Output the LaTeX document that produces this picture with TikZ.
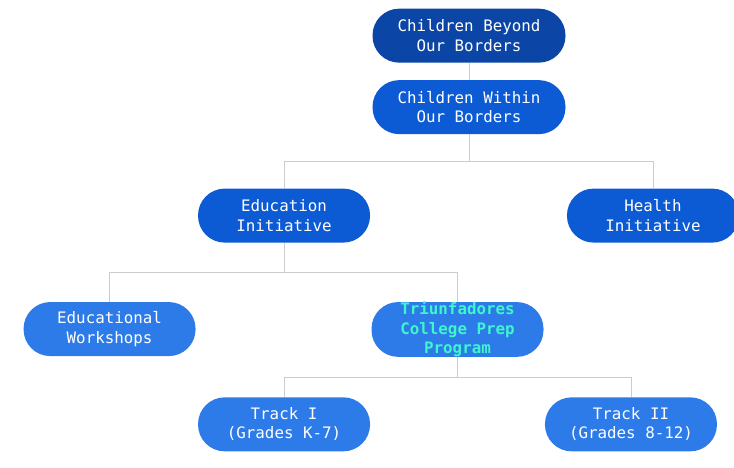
\documentclass[tikz,border=0pt]{standalone}
\usepackage{fontspec}
\setmonofont{DejaVu Sans Mono}
\usetikzlibrary{positioning}
\usetikzlibrary{calc}
\definecolor{rootblue}{HTML}{0B46A6}
\definecolor{midblue}{HTML}{0C5BD4}
\definecolor{lightblue}{HTML}{2D7BE9}
\definecolor{linkgray}{HTML}{CCCCCC}
\definecolor{aqua}{HTML}{3FF5CB}
\tikzset{org node/.style={rectangle,rounded corners=0.8cm,minimum width=5.16cm,minimum height=1.62cm,inner sep=0pt,align=center,text=white,font=\ttfamily\fontsize{13.5}{16.5}\selectfont},}
\tikzset{root node/.style={org node,fill=rootblue,minimum width=5.79cm},}
\tikzset{main node/.style={org node,fill=midblue},}
\tikzset{leaf node/.style={org node,fill=lightblue},}
\tikzset{tree link/.style={draw=linkgray,line width=0.7pt,to path={(\tikztostart) |- ($(\tikztostart)!0.5!(\tikztotarget)$) -| (\tikztotarget)}},}

\begin{document}
\begin{tikzpicture}
     \useasboundingbox (0,0) rectangle (22.02,-14.04);
     \node[root node] (beyond) at (14.07,-1.07) {Children Beyond\\Our Borders};
     \node[root node,fill=midblue] (within) [below = 0.51cm of beyond] {Children Within\\Our Borders};
     \node[main node] (edu) [below left = 1.62cm and 0.06cm of within] {Education\\Initiative};
     \node[main node] (health) [below right = 1.62cm and 0.03cm of within] {Health\\Initiative};
     \node[leaf node] (workshops) [below left = 1.77cm and 0.06cm of edu] {Educational\\Workshops};
     \node[leaf node,text=aqua,font=\ttfamily\bfseries\fontsize{13.5}{16.5}\selectfont] (prep) [below right = 1.77cm and 0.03cm of edu] {Triunfadores\\College Prep\\Program};
     \node[leaf node] (trackone) [below left = 1.2cm and 0.03cm of prep] {Track I\\(Grades K-7)};
     \node[leaf node] (tracktwo) [below right = 1.2cm and 0.03cm of prep] {Track II\\(Grades 8-12)};

     \path[draw=linkgray,line width=0.7pt]
     (beyond.south) -- (within.north);
     \path[tree link]
     (within.south) edge[tree link] (edu.north)
     (within.south) edge[tree link] (health.north)
     (edu.south) edge[tree link] (workshops.north)
     (edu.south) edge[tree link] (prep.north)
     (prep.south) edge[tree link] (trackone.north)
     (prep.south) edge[tree link] (tracktwo.north);
  \end{tikzpicture}
\end{document}
